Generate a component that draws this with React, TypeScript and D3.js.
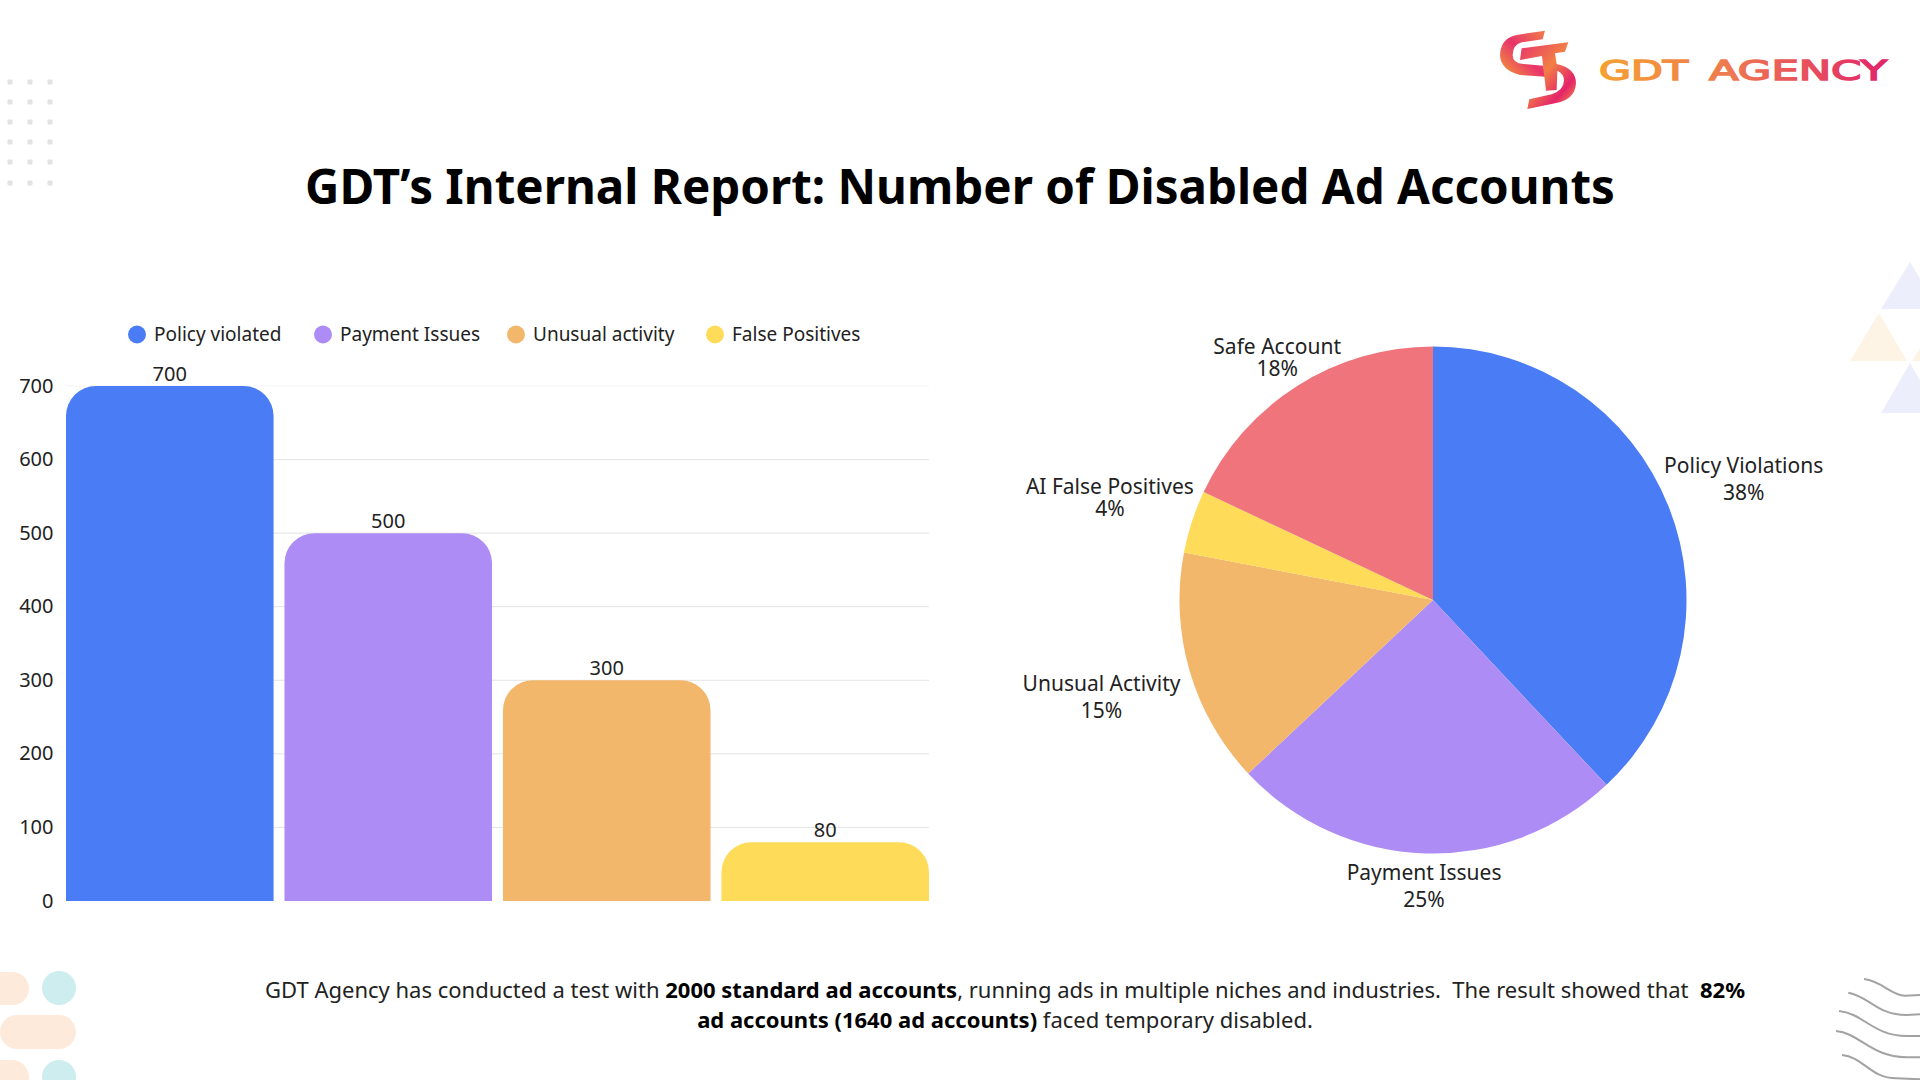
import React from "react";
import * as d3 from "d3";

const categories = ["Policy violated", "Payment Issues", "Unusual activity", "False Positives"];
const barValues = [700, 500, 300, 80];
const barColors = ["#4a7cf6", "#ad8cf5", "#f2b76a", "#fedb58"];
const yTicks = [0, 100, 200, 300, 400, 500, 600, 700];

const pieLabels = ["Policy Violations", "Payment Issues", "Unusual Activity", "AI False Positives", "Safe Account"];
const pieValues = [38, 25, 15, 4, 18];
const pieColors = ["#4a7cf6", "#ad8cf5", "#f2b76a", "#fedb58", "#f0747c"];
// label centre offset from the slice's outer edge, and gap between the two lines
const pieLabelOffsets = [[75, -28.5, 27], [-1, 32, 27], [-88, 26, 27], [-82, -25, 22], [-20, -29, 22]];

const legendX = [137, 323, 516, 715];
const FONT = "'Noto Sans', sans-serif";

const x = d3.scaleBand<string>().domain(categories).range([66, 929]).paddingInner(0.05);
const y = d3.scaleLinear().domain([0, 700]).range([901, 386]);

function topRounded(x0: number, w: number, top: number, bottom: number, r: number) {
  const p = d3.path();
  p.moveTo(x0, bottom);
  p.lineTo(x0, top + r);
  p.arcTo(x0, top, x0 + r, top, r);
  p.lineTo(x0 + w - r, top);
  p.arcTo(x0 + w, top, x0 + w, top + r, r);
  p.lineTo(x0 + w, bottom);
  p.closePath();
  return p.toString();
}

const cx = 1433, cy = 600, R = 253.5;
const pieArcs = d3.pie<number>().sort(null)(pieValues);
const arc = d3.arc<d3.PieArcDatum<number>>().innerRadius(0).outerRadius(R);

const dotXs = [10, 30, 50];
const dotYs = [82, 102, 122, 142, 162, 183];
const wavePaths = [
  "M192 87 C250 95 270 135 315 137 L360 135",
  "M145 128 C210 140 230 195 320 195 L360 193",
  "M117 183 C190 190 220 258 320 258 L360 258",
  "M108 243 C180 250 210 320 320 322 L360 322",
  "M126 315 C190 320 210 385 290 385 L360 388",
];

export default function App() {
  return (
    <svg width={1920} height={1080} viewBox="0 0 1920 1080" fontFamily={FONT}
      style={{ position: "absolute", left: 0, top: 0, background: "#fff" }}>
      <defs>
        <linearGradient id="logoText" gradientUnits="userSpaceOnUse" x1={1599} y1={0} x2={1887} y2={0}>
          <stop offset="0" stopColor="#f5a133" />
          <stop offset="0.45" stopColor="#ee7a50" />
          <stop offset="1" stopColor="#e2246a" />
        </linearGradient>
        <linearGradient id="logoA" x1="1" y1="0" x2="0" y2="1">
          <stop offset="0" stopColor="#f07f4a" />
          <stop offset="0.5" stopColor="#e8336b" />
          <stop offset="1" stopColor="#f5a133" />
        </linearGradient>
        <linearGradient id="logoB" x1="0" y1="0" x2="1" y2="1">
          <stop offset="0" stopColor="#e8336b" />
          <stop offset="0.45" stopColor="#f27f45" />
          <stop offset="0.75" stopColor="#e4246a" />
          <stop offset="1" stopColor="#f5a133" />
        </linearGradient>
      </defs>

      {/* decorations */}
      {dotXs.flatMap((dx) => dotYs.map((dy) => (
        <rect key={`${dx}-${dy}`} x={dx - 2.5} y={dy - 2.5} width={5} height={5} rx={1} fill="#e2e2e2" />
      )))}
      <rect x={-40} y={972} width={69} height={33} rx={16.5} fill="#fdeadb" />
      <rect x={0} y={1015} width={76} height={34} rx={17} fill="#fdeadb" />
      <rect x={-40} y={1060} width={69} height={35} rx={17} fill="#fdeadb" />
      <circle cx={59} cy={988} r={17} fill="#cdedef" />
      <circle cx={59} cy={1077} r={17} fill="#cdedef" />
      <g transform="translate(1800,950) scale(0.3333)" fill="none" stroke="#a3a3a3" strokeWidth={6}>
        {wavePaths.map((d) => <path key={d} d={d} />)}
      </g>
      <path d="M1910 262 L1939 309 L1881 309 Z" fill="#eceefc" />
      <path d="M1879 313 L1907 361 L1850 361 Z" fill="#fdf4e6" />
      <path d="M1941 313 L1970 361 L1912 361 Z" fill="#fdf4e6" />
      <path d="M1910 363 L1939 413 L1881 413 Z" fill="#eceefc" />

      {/* logo */}
      <g transform="translate(1440,0) scale(0.3333)">
        <path fill="url(#logoA)" d="M315 92 L308 118 L245 127 Q218 135 218 165 Q218 190 250 192 L310 197 L316 230 L240 225 Q182 210 180 165 Q182 115 230 105 Z" />
        <path fill="url(#logoB)" d="M245 145 L385 127 L375 155 L345 160 L350 192 Q408 205 408 250 Q405 300 345 310 L262 327 L268 298 L335 283 Q372 270 372 240 Q372 222 352 212 L350 270 L318 272 L306 168 L240 180 Z" />
      </g>
      <g fontFamily="'DejaVu Sans', sans-serif" fontWeight={400} fontSize={27} fill="url(#logoText)" stroke="url(#logoText)" strokeWidth={1.4}>
        <text x={1599} y={80} textLength={89} lengthAdjust="spacingAndGlyphs">GDT</text>
        <text x={1709} y={80} textLength={178} lengthAdjust="spacingAndGlyphs">AGENCY</text>
      </g>

      {/* title */}
      <text x={960} y={204} textAnchor="middle" fontSize={47.5} fontWeight={700} fill="#000">GDT’s Internal Report: Number of Disabled Ad Accounts</text>

      {/* legend */}
      {categories.map((c, i) => (
        <g key={c}>
          <circle cx={legendX[i]} cy={334.5} r={9} fill={barColors[i]} />
          <text x={legendX[i] + 17} y={333.5} dominantBaseline="central" fontSize={19} fill="#222">{c}</text>
        </g>
      ))}

      {/* bar chart */}
      {yTicks.map((t) => (
        <g key={t}>
          {t > 0 && <line x1={66} x2={929} y1={y(t)} y2={y(t)} stroke={t === 700 ? "#f4f4f4" : "#e4e4e4"} strokeWidth={1} />}
          <text x={53.5} y={y(t) - 1} textAnchor="end" dominantBaseline="central" fontSize={20} fill="#222">{t}</text>
        </g>
      ))}
      {categories.map((c, i) => (
        <g key={c}>
          <path d={topRounded(x(c)!, x.bandwidth(), y(barValues[i]), y(0), 30)} fill={barColors[i]} />
          <text x={x(c)! + x.bandwidth() / 2} y={y(barValues[i]) - 5} textAnchor="middle" fontSize={20} fill="#222">{barValues[i]}</text>
        </g>
      ))}

      {/* pie chart */}
      <g transform={`translate(${cx},${cy})`}>
        {pieArcs.map((a, i) => <path key={pieLabels[i]} d={arc(a)!} fill={pieColors[i]} />)}
      </g>
      {pieArcs.map((a, i) => {
        const mid = (a.startAngle + a.endAngle) / 2;
        const [dx, dy, gap] = pieLabelOffsets[i];
        const lx = cx + R * Math.sin(mid) + dx;
        const ly = cy - R * Math.cos(mid) + dy;
        return (
          <g key={pieLabels[i]} textAnchor="middle" fontSize={21} fill="#222">
            <text x={lx} y={ly - gap / 2} dominantBaseline="central">{pieLabels[i]}</text>
            <text x={lx} y={ly + gap / 2} dominantBaseline="central">{pieValues[i]}%</text>
          </g>
        );
      })}

      {/* footer */}
      <g textAnchor="middle" fontSize={22} fill="#222">
        <text x={1005} y={998}>
          {"GDT Agency has conducted a test with "}<tspan fontWeight={700} fill="#000">2000 standard ad accounts</tspan>{", running ads in multiple niches and industries.\u00A0 The result showed that \u00A0"}<tspan fontWeight={700} fill="#000">82%</tspan>
        </text>
        <text x={1005} y={1028}>
          <tspan fontWeight={700} fill="#000">ad accounts (1640 ad accounts)</tspan>{" faced temporary disabled."}
        </text>
      </g>
    </svg>
  );
}
